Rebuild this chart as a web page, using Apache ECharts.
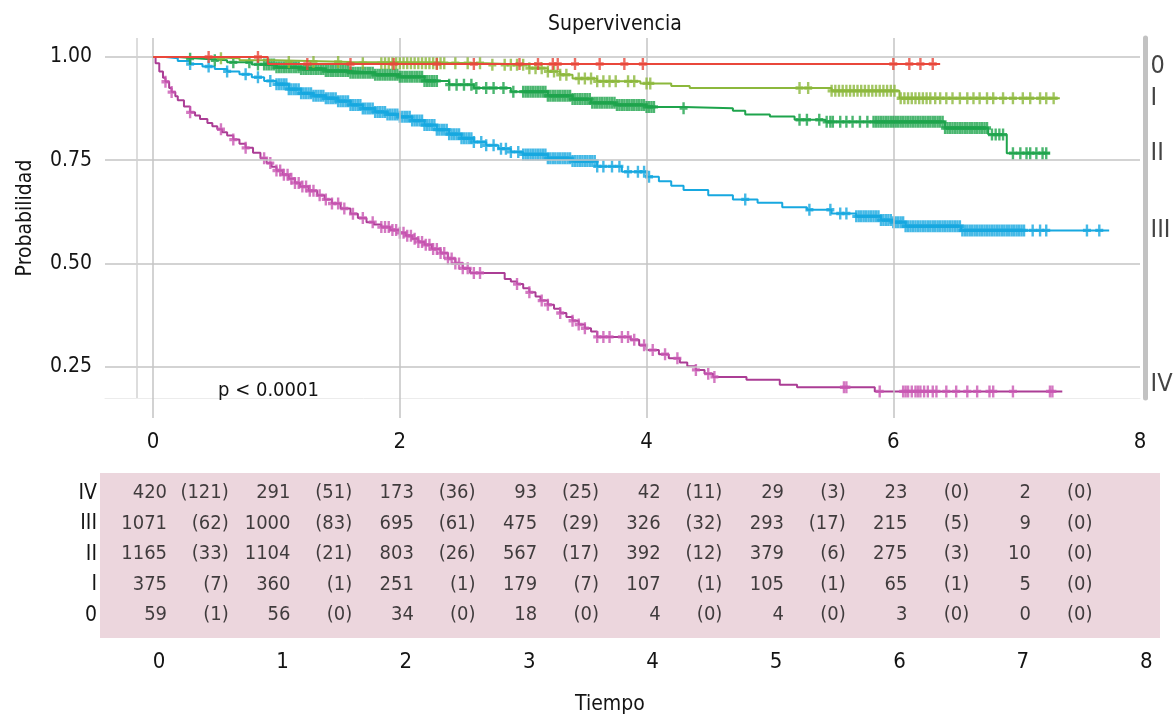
<!DOCTYPE html>
<html><head><meta charset="utf-8">
<script src="https://cdn.jsdelivr.net/npm/echarts@6/dist/echarts.min.js"></script>
<style>html,body{margin:0;padding:0;background:#fff}#c{width:1174px;height:715px}</style>
</head><body><div id="c"></div>
<script>
// ---- Data ----
const strata = ['0', 'I', 'II', 'III', 'IV'];

// Kaplan-Meier step points [time, survival]
const km0 = [[0,1],[0.93,0.983],[6.38,0.983]];
const kmI = [[0,1],[0.4,0.997],[0.7,0.992],[1.0,0.988],[1.6,0.985],[2.7,0.981],[3.05,0.973],[3.2,0.965],[3.3,0.957],[3.4,0.948],[3.6,0.941],[3.95,0.936],[4.2,0.93],[4.35,0.925],[5.5,0.918],[6.05,0.9],[7.35,0.9]];
const kmII = [[0,1],[0.2,0.996],[0.4,0.992],[0.6,0.987],[0.8,0.982],[1.0,0.975],[1.2,0.971],[1.4,0.966],[1.6,0.962],[1.8,0.957],[2.0,0.952],[2.2,0.942],[2.4,0.933],[2.6,0.925],[2.9,0.916],[3.2,0.906],[3.4,0.898],[3.55,0.889],[3.75,0.884],[4.0,0.879],[4.3,0.876],[4.7,0.87],[4.8,0.861],[5.0,0.856],[5.2,0.848],[5.45,0.843],[6.42,0.828],[6.77,0.812],[6.92,0.767],[7.27,0.767]];
const kmIII = [[0,1],[0.1,0.997],[0.2,0.99],[0.3,0.983],[0.4,0.977],[0.5,0.971],[0.6,0.965],[0.7,0.958],[0.8,0.951],[0.9,0.942],[1.0,0.934],[1.1,0.922],[1.2,0.912],[1.3,0.906],[1.4,0.9],[1.5,0.893],[1.6,0.884],[1.7,0.875],[1.8,0.867],[1.9,0.861],[2.0,0.855],[2.1,0.846],[2.2,0.835],[2.3,0.824],[2.4,0.813],[2.5,0.803],[2.6,0.794],[2.7,0.786],[2.8,0.778],[2.9,0.77],[3.0,0.764],[3.2,0.755],[3.4,0.748],[3.6,0.735],[3.8,0.722],[4.0,0.71],[4.1,0.699],[4.2,0.688],[4.3,0.678],[4.5,0.665],[4.7,0.655],[4.9,0.647],[5.1,0.636],[5.3,0.63],[5.5,0.621],[5.7,0.614],[5.9,0.605],[6.0,0.6],[6.1,0.59],[6.55,0.58],[7.75,0.58]];
const kmIV = [[0,1],[0.02,0.985],[0.05,0.965],[0.08,0.95],[0.1,0.94],[0.13,0.925],[0.15,0.915],[0.18,0.905],[0.2,0.895],[0.25,0.88],[0.3,0.866],[0.34,0.858],[0.38,0.85],[0.44,0.84],[0.48,0.832],[0.52,0.825],[0.56,0.818],[0.6,0.81],[0.65,0.8],[0.7,0.79],[0.75,0.78],[0.81,0.768],[0.87,0.755],[0.92,0.743],[0.96,0.734],[1.0,0.725],[1.05,0.715],[1.1,0.705],[1.15,0.695],[1.19,0.686],[1.26,0.676],[1.33,0.665],[1.39,0.655],[1.45,0.645],[1.52,0.633],[1.6,0.62],[1.66,0.61],[1.73,0.6],[1.79,0.594],[1.85,0.588],[1.92,0.581],[2.0,0.574],[2.05,0.567],[2.1,0.56],[2.15,0.552],[2.2,0.545],[2.26,0.535],[2.33,0.525],[2.39,0.512],[2.45,0.5],[2.51,0.488],[2.57,0.477],[2.85,0.462],[2.9,0.456],[2.95,0.45],[3.0,0.44],[3.05,0.43],[3.1,0.42],[3.14,0.41],[3.2,0.4],[3.25,0.39],[3.3,0.38],[3.35,0.37],[3.4,0.361],[3.45,0.352],[3.5,0.343],[3.55,0.335],[3.6,0.322],[3.87,0.315],[3.94,0.302],[4.0,0.29],[4.1,0.28],[4.18,0.27],[4.27,0.26],[4.33,0.251],[4.4,0.242],[4.47,0.233],[4.54,0.225],[4.81,0.218],[5.08,0.206],[5.22,0.2],[5.85,0.19],[7.37,0.19]];

// Censoring times
const cens0 = [0.45,0.85,1.25,1.6,1.95,2.3,2.6,2.97,3.12,3.24,3.28,3.42,3.62,3.82,3.97,6.0,6.13,6.22,6.32];
const censI = [0.55,1.1,1.3,1.5,1.7,1.85,1.88,1.91,1.94,1.97,2.0,2.03,2.06,2.09,2.12,2.15,2.18,2.21,2.24,2.27,2.3,2.33,2.36,2.45,2.55,2.65,2.75,2.85,2.9,2.95,3.0,3.05,3.1,3.15,3.2,3.25,3.3,3.35,3.45,3.5,3.55,3.6,3.65,3.7,3.75,3.85,3.9,4.0,4.03,5.24,5.31,5.5,5.53,5.56,5.59,5.62,5.65,5.68,5.71,5.74,5.77,5.8,5.83,5.86,5.89,5.92,5.95,5.98,6.01,6.06,6.09,6.12,6.15,6.18,6.21,6.24,6.27,6.3,6.34,6.38,6.43,6.48,6.54,6.6,6.65,6.7,6.76,6.81,6.89,6.97,7.05,7.11,7.19,7.24,7.3];
const censII = [0.3,0.5,0.65,0.78,0.85,
  0.9,0.92,0.94,0.96,0.98,1.0,1.02,1.04,1.06,1.08,1.1,1.12,1.14,1.16,1.18,1.2,1.22,1.24,1.26,1.28,1.3,1.32,1.34,1.36,1.38,1.4,1.42,1.44,1.46,1.48,1.5,1.52,1.54,1.56,1.58,1.6,1.62,1.64,1.66,1.68,1.7,1.72,1.74,1.76,1.78,1.8,1.82,1.84,1.86,1.88,1.9,1.92,1.94,1.96,1.98,2.0,2.02,2.04,2.06,2.08,2.1,2.12,2.14,2.16,2.18,2.2,2.22,2.24,2.26,2.28,2.3,
  2.4,2.46,2.52,2.58,2.62,2.7,2.76,2.84,2.92,
  3.0,3.02,3.04,3.06,3.08,3.1,3.12,3.14,3.16,3.18,3.2,3.22,3.24,3.26,3.28,3.3,3.32,3.34,3.36,3.38,3.4,3.42,3.44,3.46,3.48,3.5,3.52,3.54,3.56,3.58,3.6,3.62,3.64,3.66,3.68,3.7,3.72,3.74,3.76,3.78,3.8,3.82,3.84,3.86,3.88,3.9,3.92,3.94,3.96,3.98,4.0,4.02,4.04,4.06,
  4.3,5.24,5.3,5.4,5.46,5.49,5.51,5.57,5.62,5.67,5.73,5.79,
  5.84,5.86,5.88,5.9,5.92,5.94,5.96,5.98,6.0,6.02,6.04,6.06,6.08,6.1,6.12,6.14,6.16,6.18,6.2,6.22,6.24,6.26,6.28,6.3,6.32,6.34,6.36,6.38,6.4,6.42,6.44,6.46,6.48,6.5,6.52,6.54,6.56,6.58,6.6,6.62,6.64,6.66,6.68,6.7,6.72,6.74,6.76,6.8,6.83,6.86,6.89,
  6.97,7.03,7.08,7.11,7.16,7.21,7.24];
const censIII = [0.3,0.45,0.6,0.75,0.85,0.95,
  1.0,1.02,1.04,1.06,1.08,1.1,1.12,1.14,1.16,1.18,1.2,1.22,1.24,1.26,1.28,1.3,1.32,1.34,1.36,1.38,1.4,1.42,1.44,1.46,1.48,1.5,1.52,1.54,1.56,1.58,1.6,1.62,1.64,1.66,1.68,1.7,1.72,1.74,1.76,1.78,1.8,1.82,1.84,1.86,1.88,1.9,1.92,1.94,1.96,1.98,2.0,2.02,2.04,2.06,2.08,2.1,2.12,2.14,2.16,2.18,2.2,2.22,2.24,2.26,2.28,2.3,2.32,2.34,2.36,2.38,2.4,2.42,2.44,2.46,2.48,2.5,2.52,2.54,2.56,2.58,2.6,
  2.66,2.7,2.76,2.82,2.86,2.9,2.96,
  3.0,3.02,3.04,3.06,3.08,3.1,3.12,3.14,3.16,3.18,3.2,3.22,3.24,3.26,3.28,3.3,3.32,3.34,3.36,3.38,3.4,3.42,3.44,3.46,3.48,3.5,3.52,3.54,3.56,3.58,3.6,
  3.65,3.72,3.78,3.85,3.93,3.98,4.02,4.8,5.32,5.49,5.57,5.62,
  5.7,5.72,5.74,5.76,5.78,5.8,5.82,5.84,5.86,5.88,5.9,5.92,5.94,5.96,5.98,6.0,6.02,6.04,6.06,6.08,6.1,6.12,6.14,6.16,6.18,6.2,6.22,6.24,6.26,6.28,6.3,6.32,6.34,6.36,6.38,6.4,6.42,6.44,6.46,6.48,6.5,6.52,6.54,6.56,6.58,6.6,6.62,6.64,6.66,6.68,6.7,6.72,6.74,6.76,6.78,6.8,6.82,6.84,6.86,6.88,6.9,6.92,6.94,6.96,6.98,7.0,7.02,7.04,7.06,
  7.13,7.19,7.24,7.57,7.67];
const censIV = [0.1,0.15,0.3,0.55,0.65,0.75,0.9,0.95,1.0,1.03,1.06,1.09,1.12,1.15,1.18,1.21,1.24,1.27,1.3,1.35,1.4,1.45,1.5,1.55,1.62,1.7,1.78,1.85,1.88,1.91,1.94,1.97,2.0,2.03,2.06,2.09,2.12,2.15,2.18,2.21,2.24,2.27,2.3,2.33,2.36,2.39,2.42,2.45,2.48,2.51,2.55,2.6,2.65,2.95,3.05,3.15,3.2,3.3,3.4,3.45,3.5,3.6,3.65,3.7,3.8,3.85,3.9,3.98,4.05,4.15,4.25,4.4,4.5,4.55,5.6,5.62,5.89,6.08,6.1,6.12,6.15,6.18,6.2,6.22,6.25,6.28,6.32,6.35,6.43,6.51,6.6,6.68,6.78,6.81,6.97,7.27,7.29];

// Risk table: number at risk and (events) per yearly interval
const tableTimes = [0,1,2,3,4,5,6,7];
const risk0 = [59,56,34,18,4,4,3,0];
const riskI = [375,360,251,179,107,105,65,5];
const riskII = [1165,1104,803,567,392,379,275,10];
const riskIII = [1071,1000,695,475,326,293,215,9];
const riskIV = [420,291,173,93,42,29,23,2];
const ev0 = [1,0,0,0,0,0,0,0];
const evI = [7,1,1,7,1,1,1,0];
const evII = [33,21,26,17,12,6,3,0];
const evIII = [62,83,61,29,32,17,5,0];
const evIV = [121,51,36,25,11,3,0,0];

// Axis ticks
const xTicksTop = [0,2,4,6,8];
const yTicks = [0.25,0.5,0.75,1.0];
const xTicksTable = [0,1,2,3,4,5,6,7,8];

// ---- Build ----
const FONT = "'DejaVu Sans Condensed','Liberation Sans Narrow',sans-serif";
const TXT = '#141414';
const kms = [km0, kmI, kmII, kmIII, kmIV];
const cens = [cens0, censI, censII, censIII, censIV];
const risks = [risk0, riskI, riskII, riskIII, riskIV];
const evs = [ev0, evI, evII, evIII, evIV];
const colors = ['#e9473b', '#8cb83c', '#1ea44c', '#17a8e0', '#ab3d95'];
const censColors = ['#e9473b', '#8cb83c', '#1ea44c', '#17a8e0', '#c957b3'];

function survAt(km, t) {
  let s = km[0][1];
  for (const p of km) { if (p[0] <= t + 1e-9) s = p[1]; else break; }
  return s;
}
const PLUS = 'path://M3.5,0H6.5V3.6H10V6.4H6.5V10H3.5V6.4H0V3.6H3.5Z';

const series = [];
series.push({
  type: 'line', xAxisIndex: 0, yAxisIndex: 0, data: [], silent: true,
  markLine: {
    symbol: 'none', silent: true, animation: false, label: { show: false },
    lineStyle: { color: '#c4c4c4', width: 1.5, type: 'solid' },
    data: yTicks.map(v => ({ yAxis: v })).concat(xTicksTop.slice(0, 4).map(v => ({ xAxis: v })))
      .concat([{ xAxis: -0.13, lineStyle: { color: '#d2d2d2', width: 1.5, type: 'solid' } }])
  }
});
[4, 3, 2, 1, 0].forEach(i => {
  series.push({
    name: strata[i], type: 'line', step: 'end', xAxisIndex: 0, yAxisIndex: 0,
    data: kms[i], showSymbol: false, lineStyle: { color: colors[i], width: 2 },
    itemStyle: { color: colors[i] }, z: 3 + (4 - i)
  });
  series.push({
    type: 'scatter', xAxisIndex: 0, yAxisIndex: 0,
    data: cens[i].map(t => [t, survAt(kms[i], t)]),
    symbol: PLUS, symbolSize: [8, 12], itemStyle: { color: censColors[i] }, z: 3 + (4 - i)
  });
});
series.push({
  type: 'scatter', xAxisIndex: 0, yAxisIndex: 0, clip: false, symbolSize: 1,
  itemStyle: { color: 'transparent' },
  data: strata.map((n, i) => ({ value: [8, kms[i][kms[i].length - 1][1], n],
    label: i === 4 ? { offset: [0, -7] } : (i === 0 ? { offset: [0, 2] } : {}) })),
  label: { show: true, position: 'right', distance: 10, formatter: p => p.data.value[2],
    fontFamily: FONT, fontSize: 25, color: TXT }
});
const tableData = [];
strata.forEach((n, r) => {
  tableTimes.forEach((t, k) => {
    tableData.push([t, r, String(risks[r][k])]);
    tableData.push([t + 0.5, r, '(' + evs[r][k] + ')']);
  });
});
series.push({
  type: 'scatter', xAxisIndex: 1, yAxisIndex: 2, symbolSize: 1, clip: false,
  itemStyle: { color: 'transparent' }, data: tableData,
  label: { show: true, position: 'inside', align: 'right', verticalAlign: 'middle', offset: [14, 0],
    formatter: p => p.data[2], fontFamily: FONT, fontSize: 20, color: TXT }
});

const lab = { fontFamily: FONT, fontSize: 22, color: TXT };
const tstyle = { fontFamily: FONT, fontSize: 21, fontWeight: 'normal', color: TXT };
const option = {
  animation: false,
  backgroundColor: '#fff',
  textStyle: { fontFamily: FONT },
  title: [
    { text: 'Supervivencia', left: 543, top: 9, textStyle: tstyle },
    { text: 'p < 0.0001', left: 213, top: 376, textStyle: Object.assign({}, tstyle, { fontSize: 20 }) },
    { text: 'Tiempo', left: 570, top: 689, textStyle: tstyle }
  ],
  grid: [
    { left: 105, right: 34, top: 38, height: 360 },
    { left: 100, right: 14, top: 473, height: 165, show: true, backgroundColor: '#ecd6dd', borderWidth: 0 }
  ],
  xAxis: [
    { gridIndex: 0, type: 'value', min: -0.39, max: 8,
      axisLine: { show: true, onZero: false, lineStyle: { color: '#ececec', width: 1 } },
      axisTick: { show: true, customValues: [0, 2, 4, 6], length: 20, lineStyle: { color: '#c4c4c4', width: 1.5 } },
      axisLabel: Object.assign({ customValues: xTicksTop, margin: 33 }, lab),
      splitLine: { show: false } },
    { gridIndex: 1, type: 'value', min: -0.43, max: 8.16,
      axisLine: { show: false }, axisTick: { show: false },
      axisLabel: Object.assign({ customValues: xTicksTable, margin: 13, padding: [0, 0, 0, 12] }, lab),
      splitLine: { show: false } }
  ],
  yAxis: [
    { gridIndex: 0, type: 'value', min: 0.174, max: 1.046,
      axisLine: { show: false }, axisTick: { show: false }, splitLine: { show: false },
      axisLabel: Object.assign({ customValues: yTicks, formatter: v => v.toFixed(2), margin: 13 }, lab, { fontSize: 21 }),
      name: 'Probabilidad', nameLocation: 'middle', nameRotate: 90, nameGap: 69,
      nameTextStyle: { fontFamily: FONT, fontSize: 21, color: TXT } },
    { gridIndex: 0, type: 'value', min: 0.174, max: 1.046, position: 'right', offset: 5,
      axisLine: { show: true, lineStyle: { color: '#c2c2c2', width: 5 } },
      axisTick: { show: false }, axisLabel: { show: false }, splitLine: { show: false } },
    { gridIndex: 1, type: 'value', min: -0.75, max: 4.66,
      axisLine: { show: false }, axisTick: { show: false }, splitLine: { show: false },
      axisLabel: Object.assign({ customValues: [0, 1, 2, 3, 4], formatter: v => strata[Math.round(v)], margin: 3 }, lab, { fontSize: 21 }) }
  ],
  series: series
};
const chart = echarts.init(document.getElementById('c'), null, { renderer: 'canvas' });
chart.setOption(option);
</script></body></html>
